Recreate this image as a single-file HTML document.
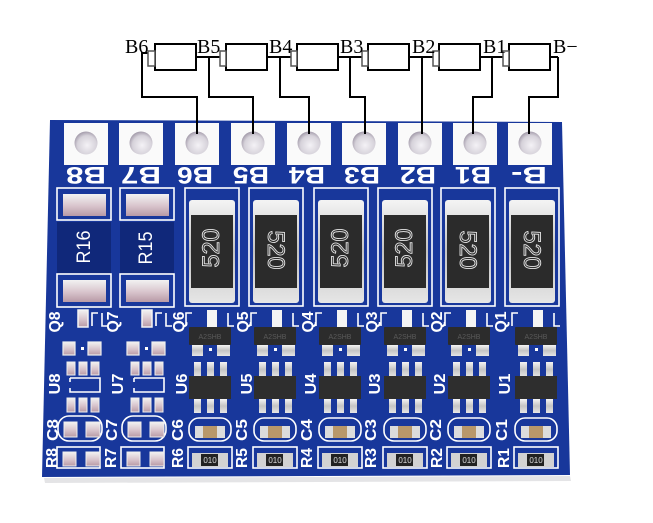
<!DOCTYPE html>
<html><head><meta charset="utf-8"><style>
html,body{margin:0;padding:0;background:#fff;}
svg{display:block}
.lbl{font-family:"Liberation Serif",serif;font-size:20px;fill:#000}
.s{font-family:"Liberation Sans",sans-serif;font-weight:bold;fill:#fff;text-anchor:middle}
.t{font-family:"Liberation Sans",sans-serif;text-anchor:middle}
</style></head><body>
<svg width="653" height="523" viewBox="0 0 653 523" xmlns="http://www.w3.org/2000/svg">
<defs>
<linearGradient id="sv" x1="0" y1="0" x2="0" y2="1">
 <stop offset="0" stop-color="#f4f4f4"/><stop offset="0.5" stop-color="#c4c4c4"/><stop offset="1" stop-color="#e6e6e6"/>
</linearGradient>
<linearGradient id="pk" x1="0" y1="0" x2="0" y2="1">
 <stop offset="0" stop-color="#f2f2f2"/><stop offset="0.55" stop-color="#d8c4cc"/><stop offset="1" stop-color="#b89aa6"/>
</linearGradient>
<radialGradient id="hole" cx="0.55" cy="0.6" r="0.6">
 <stop offset="0" stop-color="#f4f2f6"/><stop offset="0.7" stop-color="#d6d2da"/><stop offset="1" stop-color="#a49cab"/>
</radialGradient>
</defs>

<!-- board shadow + board -->
<polygon points="44,478 570,476 571,481 45,483" fill="#e4e4e6"/>
<polygon points="50,120 562,122 570,475 42,477" fill="#18379b"/>

<!-- top pads -->
<g>
 <rect x="64" y="123" width="44" height="42" fill="#fafafa"/><circle cx="86" cy="143" r="11.5" fill="url(#hole)"/>
 <rect x="119" y="123" width="44" height="42" fill="#fafafa"/><circle cx="141" cy="143" r="11.5" fill="url(#hole)"/>
 <rect x="175" y="123" width="44" height="42" fill="#fafafa"/><circle cx="197" cy="143" r="11.5" fill="url(#hole)"/>
 <rect x="231" y="123" width="44" height="42" fill="#fafafa"/><circle cx="253" cy="143" r="11.5" fill="url(#hole)"/>
 <rect x="287" y="123" width="44" height="42" fill="#fafafa"/><circle cx="309" cy="143" r="11.5" fill="url(#hole)"/>
 <rect x="342" y="123" width="44" height="42" fill="#fafafa"/><circle cx="364" cy="143" r="11.5" fill="url(#hole)"/>
 <rect x="398" y="123" width="44" height="42" fill="#fafafa"/><circle cx="420" cy="143" r="11.5" fill="url(#hole)"/>
 <rect x="453" y="123" width="44" height="42" fill="#fafafa"/><circle cx="475" cy="143" r="11.5" fill="url(#hole)"/>
 <rect x="508" y="123" width="44" height="42" fill="#fafafa"/><circle cx="530" cy="143" r="11.5" fill="url(#hole)"/>
</g>
<!-- pad labels (upside down) -->
<g class="s" font-size="24">
 <text x="86" y="185" textLength="40" lengthAdjust="spacingAndGlyphs" transform="rotate(180 86 176)">B8</text>
 <text x="141" y="185" textLength="40" lengthAdjust="spacingAndGlyphs" transform="rotate(180 141 176)">B7</text>
 <text x="195" y="185" textLength="36" lengthAdjust="spacingAndGlyphs" transform="rotate(180 195 176)">B6</text>
 <text x="251" y="185" textLength="36" lengthAdjust="spacingAndGlyphs" transform="rotate(180 251 176)">B5</text>
 <text x="307" y="185" textLength="36" lengthAdjust="spacingAndGlyphs" transform="rotate(180 307 176)">B4</text>
 <text x="362" y="185" textLength="36" lengthAdjust="spacingAndGlyphs" transform="rotate(180 362 176)">B3</text>
 <text x="418" y="185" textLength="36" lengthAdjust="spacingAndGlyphs" transform="rotate(180 418 176)">B2</text>
 <text x="473" y="185" textLength="36" lengthAdjust="spacingAndGlyphs" transform="rotate(180 473 176)">B1</text>
 <text x="529" y="185" textLength="36" lengthAdjust="spacingAndGlyphs" transform="rotate(180 529 176)">B-</text>
</g>

<!-- R16 / R15 -->
<g transform="translate(84,0)">
 <rect x="-27" y="188" width="54" height="32" fill="none" stroke="#fff" stroke-width="1.6"/>
 <rect x="-21" y="194" width="43" height="22" fill="url(#pk)"/>
 <rect x="-27" y="222" width="54" height="52" fill="#10287a"/>
 <rect x="-27" y="274" width="54" height="33" fill="none" stroke="#fff" stroke-width="1.6"/>
 <rect x="-21" y="280" width="43" height="22" fill="url(#pk)"/>
 <text class="t" fill="#fff" font-size="19" textLength="33" lengthAdjust="spacingAndGlyphs" transform="translate(-1,247) rotate(-90)" y="7">R16</text>
</g>
<g transform="translate(147,0)">
 <rect x="-27" y="188" width="54" height="32" fill="none" stroke="#fff" stroke-width="1.6"/>
 <rect x="-21" y="194" width="43" height="22" fill="url(#pk)"/>
 <rect x="-27" y="222" width="54" height="52" fill="#10287a"/>
 <rect x="-27" y="274" width="54" height="33" fill="none" stroke="#fff" stroke-width="1.6"/>
 <rect x="-21" y="280" width="43" height="22" fill="url(#pk)"/>
 <text class="t" fill="#fff" font-size="19" textLength="33" lengthAdjust="spacingAndGlyphs" transform="translate(-2,248) rotate(-90)" y="7">R15</text>
</g>

<!-- big resistors -->
<g transform="translate(212,0)">
 <rect x="-27" y="188" width="54" height="118" fill="none" stroke="#fff" stroke-width="1.6"/>
 <rect x="-23" y="200" width="46" height="103" rx="3" fill="url(#sv)"/>
 <rect x="-21" y="215" width="42" height="73" fill="#2b2b2b"/>
 <text class="t" font-size="24" fill="#2b2b2b" stroke="#e4e4e4" stroke-width="0.9" textLength="39" lengthAdjust="spacingAndGlyphs" transform="translate(-1,248) rotate(-90)" y="8">520</text>
</g>
<g transform="translate(276,0)">
 <rect x="-27" y="188" width="54" height="118" fill="none" stroke="#fff" stroke-width="1.6"/>
 <rect x="-23" y="200" width="46" height="103" rx="3" fill="url(#sv)"/>
 <rect x="-21" y="215" width="42" height="73" fill="#2b2b2b"/>
 <text class="t" font-size="24" fill="#2b2b2b" stroke="#e4e4e4" stroke-width="0.9" textLength="39" lengthAdjust="spacingAndGlyphs" transform="translate(0,250) rotate(90)" y="8">520</text>
</g>
<g transform="translate(341,0)">
 <rect x="-27" y="188" width="54" height="118" fill="none" stroke="#fff" stroke-width="1.6"/>
 <rect x="-23" y="200" width="46" height="103" rx="3" fill="url(#sv)"/>
 <rect x="-21" y="215" width="42" height="73" fill="#2b2b2b"/>
 <text class="t" font-size="24" fill="#2b2b2b" stroke="#e4e4e4" stroke-width="0.9" textLength="39" lengthAdjust="spacingAndGlyphs" transform="translate(-1,248) rotate(-90)" y="8">520</text>
</g>
<g transform="translate(405,0)">
 <rect x="-27" y="188" width="54" height="118" fill="none" stroke="#fff" stroke-width="1.6"/>
 <rect x="-23" y="200" width="46" height="103" rx="3" fill="url(#sv)"/>
 <rect x="-21" y="215" width="42" height="73" fill="#2b2b2b"/>
 <text class="t" font-size="24" fill="#2b2b2b" stroke="#e4e4e4" stroke-width="0.9" textLength="39" lengthAdjust="spacingAndGlyphs" transform="translate(-1,248) rotate(-90)" y="8">520</text>
</g>
<g transform="translate(468,0)">
 <rect x="-27" y="188" width="54" height="118" fill="none" stroke="#fff" stroke-width="1.6"/>
 <rect x="-23" y="200" width="46" height="103" rx="3" fill="url(#sv)"/>
 <rect x="-21" y="215" width="42" height="73" fill="#2b2b2b"/>
 <text class="t" font-size="24" fill="#2b2b2b" stroke="#e4e4e4" stroke-width="0.9" textLength="39" lengthAdjust="spacingAndGlyphs" transform="translate(0,250) rotate(90)" y="8">520</text>
</g>
<g transform="translate(532,0)">
 <rect x="-27" y="188" width="54" height="118" fill="none" stroke="#fff" stroke-width="1.6"/>
 <rect x="-23" y="200" width="46" height="103" rx="3" fill="url(#sv)"/>
 <rect x="-21" y="215" width="42" height="73" fill="#2b2b2b"/>
 <text class="t" font-size="24" fill="#2b2b2b" stroke="#e4e4e4" stroke-width="0.9" textLength="39" lengthAdjust="spacingAndGlyphs" transform="translate(0,250) rotate(90)" y="8">520</text>
</g>

<!-- unpopulated columns -->
<g transform="translate(82,0)">
 <path d="M10,326 V313 H16 M20,313 V326 H26" stroke="#fff" stroke-width="1.6" fill="none"/>
 <rect x="-4" y="310" width="10" height="17" fill="url(#pk)" stroke="#f4f4f4" stroke-width="1.5"/>
 <rect x="-19" y="342" width="12" height="13" fill="url(#pk)" stroke="#eee" stroke-width="1.2"/>
 <rect x="6" y="342" width="13" height="13" fill="url(#pk)" stroke="#eee" stroke-width="1.2"/>
 <rect x="-1" y="347" width="3" height="3" fill="#fff"/>
 <rect x="-15" y="362" width="8" height="13" fill="url(#pk)" stroke="#eee"/>
 <rect x="-3" y="362" width="8" height="13" fill="url(#pk)" stroke="#eee"/>
 <rect x="9" y="362" width="8" height="13" fill="url(#pk)" stroke="#eee"/>
 <path d="M-12,378 H18 V392 H-12 V388 M-12,382 V378" stroke="#fff" stroke-width="1.6" fill="none"/>
 <rect x="-15" y="398" width="8" height="14" fill="url(#pk)" stroke="#eee"/>
 <rect x="-3" y="398" width="8" height="14" fill="url(#pk)" stroke="#eee"/>
 <rect x="9" y="398" width="8" height="14" fill="url(#pk)" stroke="#eee"/>
 <rect x="-24" y="416" width="44" height="25" rx="11" fill="none" stroke="#fff" stroke-width="1.6"/>
 <rect x="-18" y="422" width="13" height="15" fill="url(#pk)" stroke="#eee"/>
 <rect x="4" y="422" width="14" height="15" fill="url(#pk)" stroke="#eee"/>
 <rect x="-25" y="447" width="43" height="21" fill="none" stroke="#fff" stroke-width="1.6"/>
 <rect x="-19" y="452" width="13" height="14" fill="url(#pk)" stroke="#eee"/>
 <rect x="4" y="452" width="14" height="14" fill="url(#pk)" stroke="#eee"/>
</g>
<g transform="translate(146,0)">
 <path d="M10,326 V313 H16 M20,313 V326 H26" stroke="#fff" stroke-width="1.6" fill="none"/>
 <rect x="-4" y="310" width="10" height="17" fill="url(#pk)" stroke="#f4f4f4" stroke-width="1.5"/>
 <rect x="-19" y="342" width="12" height="13" fill="url(#pk)" stroke="#eee" stroke-width="1.2"/>
 <rect x="6" y="342" width="13" height="13" fill="url(#pk)" stroke="#eee" stroke-width="1.2"/>
 <rect x="-1" y="347" width="3" height="3" fill="#fff"/>
 <rect x="-15" y="362" width="8" height="13" fill="url(#pk)" stroke="#eee"/>
 <rect x="-3" y="362" width="8" height="13" fill="url(#pk)" stroke="#eee"/>
 <rect x="9" y="362" width="8" height="13" fill="url(#pk)" stroke="#eee"/>
 <path d="M-12,378 H18 V392 H-12 V388 M-12,382 V378" stroke="#fff" stroke-width="1.6" fill="none"/>
 <rect x="-15" y="398" width="8" height="14" fill="url(#pk)" stroke="#eee"/>
 <rect x="-3" y="398" width="8" height="14" fill="url(#pk)" stroke="#eee"/>
 <rect x="9" y="398" width="8" height="14" fill="url(#pk)" stroke="#eee"/>
 <rect x="-24" y="416" width="44" height="25" rx="11" fill="none" stroke="#fff" stroke-width="1.6"/>
 <rect x="-18" y="422" width="13" height="15" fill="url(#pk)" stroke="#eee"/>
 <rect x="4" y="422" width="14" height="15" fill="url(#pk)" stroke="#eee"/>
 <rect x="-25" y="447" width="43" height="21" fill="none" stroke="#fff" stroke-width="1.6"/>
 <rect x="-19" y="452" width="13" height="14" fill="url(#pk)" stroke="#eee"/>
 <rect x="4" y="452" width="14" height="14" fill="url(#pk)" stroke="#eee"/>
</g>

<!-- populated columns -->
<g transform="translate(210,0)">
 <path d="M-24,326 V313 H-18 M18,313 V326 H24" stroke="#fff" stroke-width="1.6" fill="none"/>
 <rect x="-3" y="310" width="10" height="17" fill="#f4f4f4"/>
 <rect x="-21" y="327" width="42" height="18" rx="1" fill="#2c2c2c"/>
 <text class="t" x="0" y="339" font-size="7" fill="#5a5a5a">A2SHB</text>
 <rect x="-18" y="345" width="11" height="11" fill="url(#sv)"/>
 <rect x="7" y="345" width="13" height="11" fill="url(#sv)"/>
 <rect x="-1" y="348" width="3" height="3" fill="#fff"/>
 <rect x="-16" y="362" width="7" height="15" fill="url(#sv)"/>
 <rect x="-3" y="362" width="7" height="15" fill="url(#sv)"/>
 <rect x="10" y="362" width="7" height="15" fill="url(#sv)"/>
 <rect x="-21" y="376" width="42" height="23" fill="#2e2e2e"/>
 <rect x="-16" y="399" width="7" height="14" fill="url(#sv)"/>
 <rect x="-3" y="399" width="7" height="14" fill="url(#sv)"/>
 <rect x="10" y="399" width="7" height="14" fill="url(#sv)"/>
 <rect x="-21" y="418" width="42" height="23" rx="10" fill="none" stroke="#fff" stroke-width="1.6"/>
 <rect x="-15" y="426" width="30" height="12" fill="#dcdcdc"/>
 <rect x="-7" y="426" width="14" height="12" fill="#b8976a"/>
 <rect x="-22" y="447" width="44" height="21" fill="none" stroke="#fff" stroke-width="1.6"/>
 <rect x="-18" y="453" width="36" height="14" fill="#d2d2d2"/>
 <rect x="-9" y="454" width="17" height="12" fill="#222"/>
 <text class="t" x="0" y="463" font-size="8" fill="#ddd">010</text>
</g>
<g transform="translate(275,0)">
 <path d="M-24,326 V313 H-18 M18,313 V326 H24" stroke="#fff" stroke-width="1.6" fill="none"/>
 <rect x="-3" y="310" width="10" height="17" fill="#f4f4f4"/>
 <rect x="-21" y="327" width="42" height="18" rx="1" fill="#2c2c2c"/>
 <text class="t" x="0" y="339" font-size="7" fill="#5a5a5a">A2SHB</text>
 <rect x="-18" y="345" width="11" height="11" fill="url(#sv)"/>
 <rect x="7" y="345" width="13" height="11" fill="url(#sv)"/>
 <rect x="-1" y="348" width="3" height="3" fill="#fff"/>
 <rect x="-16" y="362" width="7" height="15" fill="url(#sv)"/>
 <rect x="-3" y="362" width="7" height="15" fill="url(#sv)"/>
 <rect x="10" y="362" width="7" height="15" fill="url(#sv)"/>
 <rect x="-21" y="376" width="42" height="23" fill="#2e2e2e"/>
 <rect x="-16" y="399" width="7" height="14" fill="url(#sv)"/>
 <rect x="-3" y="399" width="7" height="14" fill="url(#sv)"/>
 <rect x="10" y="399" width="7" height="14" fill="url(#sv)"/>
 <rect x="-21" y="418" width="42" height="23" rx="10" fill="none" stroke="#fff" stroke-width="1.6"/>
 <rect x="-15" y="426" width="30" height="12" fill="#dcdcdc"/>
 <rect x="-7" y="426" width="14" height="12" fill="#b8976a"/>
 <rect x="-22" y="447" width="44" height="21" fill="none" stroke="#fff" stroke-width="1.6"/>
 <rect x="-18" y="453" width="36" height="14" fill="#d2d2d2"/>
 <rect x="-9" y="454" width="17" height="12" fill="#222"/>
 <text class="t" x="0" y="463" font-size="8" fill="#ddd">010</text>
</g>
<g transform="translate(340,0)">
 <path d="M-24,326 V313 H-18 M18,313 V326 H24" stroke="#fff" stroke-width="1.6" fill="none"/>
 <rect x="-3" y="310" width="10" height="17" fill="#f4f4f4"/>
 <rect x="-21" y="327" width="42" height="18" rx="1" fill="#2c2c2c"/>
 <text class="t" x="0" y="339" font-size="7" fill="#5a5a5a">A2SHB</text>
 <rect x="-18" y="345" width="11" height="11" fill="url(#sv)"/>
 <rect x="7" y="345" width="13" height="11" fill="url(#sv)"/>
 <rect x="-1" y="348" width="3" height="3" fill="#fff"/>
 <rect x="-16" y="362" width="7" height="15" fill="url(#sv)"/>
 <rect x="-3" y="362" width="7" height="15" fill="url(#sv)"/>
 <rect x="10" y="362" width="7" height="15" fill="url(#sv)"/>
 <rect x="-21" y="376" width="42" height="23" fill="#2e2e2e"/>
 <rect x="-16" y="399" width="7" height="14" fill="url(#sv)"/>
 <rect x="-3" y="399" width="7" height="14" fill="url(#sv)"/>
 <rect x="10" y="399" width="7" height="14" fill="url(#sv)"/>
 <rect x="-21" y="418" width="42" height="23" rx="10" fill="none" stroke="#fff" stroke-width="1.6"/>
 <rect x="-15" y="426" width="30" height="12" fill="#dcdcdc"/>
 <rect x="-7" y="426" width="14" height="12" fill="#b8976a"/>
 <rect x="-22" y="447" width="44" height="21" fill="none" stroke="#fff" stroke-width="1.6"/>
 <rect x="-18" y="453" width="36" height="14" fill="#d2d2d2"/>
 <rect x="-9" y="454" width="17" height="12" fill="#222"/>
 <text class="t" x="0" y="463" font-size="8" fill="#ddd">010</text>
</g>
<g transform="translate(405,0)">
 <path d="M-24,326 V313 H-18 M18,313 V326 H24" stroke="#fff" stroke-width="1.6" fill="none"/>
 <rect x="-3" y="310" width="10" height="17" fill="#f4f4f4"/>
 <rect x="-21" y="327" width="42" height="18" rx="1" fill="#2c2c2c"/>
 <text class="t" x="0" y="339" font-size="7" fill="#5a5a5a">A2SHB</text>
 <rect x="-18" y="345" width="11" height="11" fill="url(#sv)"/>
 <rect x="7" y="345" width="13" height="11" fill="url(#sv)"/>
 <rect x="-1" y="348" width="3" height="3" fill="#fff"/>
 <rect x="-16" y="362" width="7" height="15" fill="url(#sv)"/>
 <rect x="-3" y="362" width="7" height="15" fill="url(#sv)"/>
 <rect x="10" y="362" width="7" height="15" fill="url(#sv)"/>
 <rect x="-21" y="376" width="42" height="23" fill="#2e2e2e"/>
 <rect x="-16" y="399" width="7" height="14" fill="url(#sv)"/>
 <rect x="-3" y="399" width="7" height="14" fill="url(#sv)"/>
 <rect x="10" y="399" width="7" height="14" fill="url(#sv)"/>
 <rect x="-21" y="418" width="42" height="23" rx="10" fill="none" stroke="#fff" stroke-width="1.6"/>
 <rect x="-15" y="426" width="30" height="12" fill="#dcdcdc"/>
 <rect x="-7" y="426" width="14" height="12" fill="#b8976a"/>
 <rect x="-22" y="447" width="44" height="21" fill="none" stroke="#fff" stroke-width="1.6"/>
 <rect x="-18" y="453" width="36" height="14" fill="#d2d2d2"/>
 <rect x="-9" y="454" width="17" height="12" fill="#222"/>
 <text class="t" x="0" y="463" font-size="8" fill="#ddd">010</text>
</g>
<g transform="translate(469,0)">
 <path d="M-24,326 V313 H-18 M18,313 V326 H24" stroke="#fff" stroke-width="1.6" fill="none"/>
 <rect x="-3" y="310" width="10" height="17" fill="#f4f4f4"/>
 <rect x="-21" y="327" width="42" height="18" rx="1" fill="#2c2c2c"/>
 <text class="t" x="0" y="339" font-size="7" fill="#5a5a5a">A2SHB</text>
 <rect x="-18" y="345" width="11" height="11" fill="url(#sv)"/>
 <rect x="7" y="345" width="13" height="11" fill="url(#sv)"/>
 <rect x="-1" y="348" width="3" height="3" fill="#fff"/>
 <rect x="-16" y="362" width="7" height="15" fill="url(#sv)"/>
 <rect x="-3" y="362" width="7" height="15" fill="url(#sv)"/>
 <rect x="10" y="362" width="7" height="15" fill="url(#sv)"/>
 <rect x="-21" y="376" width="42" height="23" fill="#2e2e2e"/>
 <rect x="-16" y="399" width="7" height="14" fill="url(#sv)"/>
 <rect x="-3" y="399" width="7" height="14" fill="url(#sv)"/>
 <rect x="10" y="399" width="7" height="14" fill="url(#sv)"/>
 <rect x="-21" y="418" width="42" height="23" rx="10" fill="none" stroke="#fff" stroke-width="1.6"/>
 <rect x="-15" y="426" width="30" height="12" fill="#dcdcdc"/>
 <rect x="-7" y="426" width="14" height="12" fill="#b8976a"/>
 <rect x="-22" y="447" width="44" height="21" fill="none" stroke="#fff" stroke-width="1.6"/>
 <rect x="-18" y="453" width="36" height="14" fill="#d2d2d2"/>
 <rect x="-9" y="454" width="17" height="12" fill="#222"/>
 <text class="t" x="0" y="463" font-size="8" fill="#ddd">010</text>
</g>
<g transform="translate(536,0)">
 <path d="M-24,326 V313 H-18 M18,313 V326 H24" stroke="#fff" stroke-width="1.6" fill="none"/>
 <rect x="-3" y="310" width="10" height="17" fill="#f4f4f4"/>
 <rect x="-21" y="327" width="42" height="18" rx="1" fill="#2c2c2c"/>
 <text class="t" x="0" y="339" font-size="7" fill="#5a5a5a">A2SHB</text>
 <rect x="-18" y="345" width="11" height="11" fill="url(#sv)"/>
 <rect x="7" y="345" width="13" height="11" fill="url(#sv)"/>
 <rect x="-1" y="348" width="3" height="3" fill="#fff"/>
 <rect x="-16" y="362" width="7" height="15" fill="url(#sv)"/>
 <rect x="-3" y="362" width="7" height="15" fill="url(#sv)"/>
 <rect x="10" y="362" width="7" height="15" fill="url(#sv)"/>
 <rect x="-21" y="376" width="42" height="23" fill="#2e2e2e"/>
 <rect x="-16" y="399" width="7" height="14" fill="url(#sv)"/>
 <rect x="-3" y="399" width="7" height="14" fill="url(#sv)"/>
 <rect x="10" y="399" width="7" height="14" fill="url(#sv)"/>
 <rect x="-21" y="418" width="42" height="23" rx="10" fill="none" stroke="#fff" stroke-width="1.6"/>
 <rect x="-15" y="426" width="30" height="12" fill="#dcdcdc"/>
 <rect x="-7" y="426" width="14" height="12" fill="#b8976a"/>
 <rect x="-22" y="447" width="44" height="21" fill="none" stroke="#fff" stroke-width="1.6"/>
 <rect x="-18" y="453" width="36" height="14" fill="#d2d2d2"/>
 <rect x="-9" y="454" width="17" height="12" fill="#222"/>
 <text class="t" x="0" y="463" font-size="8" fill="#ddd">010</text>
</g>

<!-- side silk labels -->
<g class="s" font-size="16">
 <text transform="translate(54,322) rotate(-90)" y="6" textLength="21" lengthAdjust="spacingAndGlyphs">Q8</text>
 <text transform="translate(112,322) rotate(-90)" y="6" textLength="21" lengthAdjust="spacingAndGlyphs">Q7</text>
 <text transform="translate(178,322) rotate(-90)" y="6" textLength="21" lengthAdjust="spacingAndGlyphs">Q6</text>
 <text transform="translate(242,322) rotate(-90)" y="6" textLength="21" lengthAdjust="spacingAndGlyphs">Q5</text>
 <text transform="translate(307,322) rotate(-90)" y="6" textLength="21" lengthAdjust="spacingAndGlyphs">Q4</text>
 <text transform="translate(371,322) rotate(-90)" y="6" textLength="21" lengthAdjust="spacingAndGlyphs">Q3</text>
 <text transform="translate(436,322) rotate(-90)" y="6" textLength="21" lengthAdjust="spacingAndGlyphs">Q2</text>
 <text transform="translate(500,322) rotate(-90)" y="6" textLength="21" lengthAdjust="spacingAndGlyphs">Q1</text>

 <text transform="translate(54,384) rotate(-90)" y="6" textLength="21" lengthAdjust="spacingAndGlyphs">U8</text>
 <text transform="translate(117,384) rotate(-90)" y="6" textLength="21" lengthAdjust="spacingAndGlyphs">U7</text>
 <text transform="translate(181,384) rotate(-90)" y="6" textLength="21" lengthAdjust="spacingAndGlyphs">U6</text>
 <text transform="translate(246,384) rotate(-90)" y="6" textLength="21" lengthAdjust="spacingAndGlyphs">U5</text>
 <text transform="translate(310,384) rotate(-90)" y="6" textLength="21" lengthAdjust="spacingAndGlyphs">U4</text>
 <text transform="translate(374,384) rotate(-90)" y="6" textLength="21" lengthAdjust="spacingAndGlyphs">U3</text>
 <text transform="translate(439,384) rotate(-90)" y="6" textLength="21" lengthAdjust="spacingAndGlyphs">U2</text>
 <text transform="translate(504,384) rotate(-90)" y="6" textLength="21" lengthAdjust="spacingAndGlyphs">U1</text>

 <text transform="translate(52,430) rotate(-90)" y="6" textLength="22" lengthAdjust="spacingAndGlyphs">C8</text>
 <text transform="translate(111,430) rotate(-90)" y="6" textLength="22" lengthAdjust="spacingAndGlyphs">C7</text>
 <text transform="translate(177,430) rotate(-90)" y="6" textLength="22" lengthAdjust="spacingAndGlyphs">C6</text>
 <text transform="translate(241,430) rotate(-90)" y="6" textLength="22" lengthAdjust="spacingAndGlyphs">C5</text>
 <text transform="translate(306,430) rotate(-90)" y="6" textLength="22" lengthAdjust="spacingAndGlyphs">C4</text>
 <text transform="translate(370,430) rotate(-90)" y="6" textLength="22" lengthAdjust="spacingAndGlyphs">C3</text>
 <text transform="translate(435,430) rotate(-90)" y="6" textLength="22" lengthAdjust="spacingAndGlyphs">C2</text>
 <text transform="translate(501,430) rotate(-90)" y="6" textLength="22" lengthAdjust="spacingAndGlyphs">C1</text>

 <text transform="translate(51,458) rotate(-90)" y="6" textLength="20" lengthAdjust="spacingAndGlyphs">R8</text>
 <text transform="translate(110,458) rotate(-90)" y="6" textLength="20" lengthAdjust="spacingAndGlyphs">R7</text>
 <text transform="translate(177,458) rotate(-90)" y="6" textLength="20" lengthAdjust="spacingAndGlyphs">R6</text>
 <text transform="translate(241,458) rotate(-90)" y="6" textLength="20" lengthAdjust="spacingAndGlyphs">R5</text>
 <text transform="translate(306,458) rotate(-90)" y="6" textLength="20" lengthAdjust="spacingAndGlyphs">R4</text>
 <text transform="translate(370,458) rotate(-90)" y="6" textLength="20" lengthAdjust="spacingAndGlyphs">R3</text>
 <text transform="translate(436,458) rotate(-90)" y="6" textLength="20" lengthAdjust="spacingAndGlyphs">R2</text>
 <text transform="translate(503,458) rotate(-90)" y="6" textLength="20" lengthAdjust="spacingAndGlyphs">R1</text>
</g>

<!-- schematic diagram -->
<g fill="none" stroke="#000" stroke-width="2">
 <rect x="155" y="44" width="41" height="26"/>
 <rect x="226" y="44" width="41" height="26"/>
 <rect x="297" y="44" width="41" height="26"/>
 <rect x="368" y="44" width="41" height="26"/>
 <rect x="439" y="44" width="41" height="26"/>
 <rect x="509" y="44" width="41" height="26"/>
 <path d="M142,53 H148 M196,57 H220 M267,57 H291 M338,57 H362 M409,57 H433 M480,57 H503 M550,57 H558"/>
 <path d="M142,52 V97 H197 V134"/>
 <path d="M209,57 V97 H253 V134"/>
 <path d="M280,57 V97 H309 V134"/>
 <path d="M350,57 V97 H365 V134"/>
 <path d="M422,57 V134"/>
 <path d="M492,57 V97 H473 V134"/>
 <path d="M558,57 V97 H529 V134"/>
</g>
<g fill="#fff" stroke="#555" stroke-width="1.5">
 <rect x="148" y="51" width="7" height="15"/>
 <rect x="220" y="51" width="6" height="15"/>
 <rect x="291" y="51" width="6" height="15"/>
 <rect x="362" y="51" width="6" height="15"/>
 <rect x="433" y="51" width="6" height="15"/>
 <rect x="503" y="51" width="6" height="15"/>
</g>
<g class="lbl">
 <text x="125" y="53">B6</text>
 <text x="197" y="53">B5</text>
 <text x="269" y="53">B4</text>
 <text x="340" y="53">B3</text>
 <text x="412" y="53">B2</text>
 <text x="483" y="53">B1</text>
 <text x="553" y="53">B−</text>
</g>
</svg>
</body></html>
